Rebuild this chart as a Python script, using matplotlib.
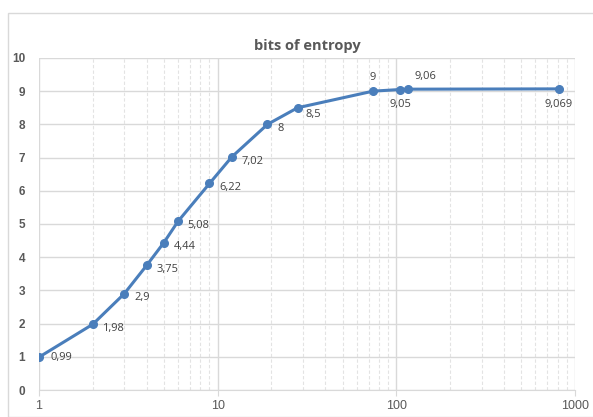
import matplotlib

matplotlib.use("Agg")
import matplotlib.pyplot as plt
from matplotlib.patches import Rectangle
from matplotlib.ticker import LogLocator, NullFormatter, FixedLocator

X = [1, 2, 3, 4, 5, 6, 9, 12, 19, 28, 74, 105, 116, 810]
Y = [0.99, 1.98, 2.9, 3.75, 4.44, 5.08, 6.22, 7.02, 8, 8.5, 9, 9.05, 9.06, 9.069]
LABELS = ["0,99", "1,98", "2,9", "3,75", "4,44", "5,08", "6,22", "7,02",
          "8", "8,5", "9", "9,05", "9,06", "9,069"]

LINE = "#4A7EBB"
GRID = "#d9d9d9"
TXT = "#595959"

plt.rcParams["font.family"] = ["Open Sans", "DejaVu Sans"]
fig = plt.figure(figsize=(5.93, 4.17), dpi=100)
fig.patches.append(Rectangle((0.013, 0.0), 0.99, 0.97, transform=fig.transFigure,
                             fill=False, edgecolor="#d9d9d9", lw=1))
ax = fig.add_axes([0.0658, 0.0647, 0.9038, 0.7963])

ax.plot(X, Y, color=LINE, lw=2.2, marker="o", ms=5.5, zorder=3)

# label offsets in points (dx, dy, ha, va)
off = {
    "0,99": (8, 0, "left", "center"),
    "8,5": (6, -5, "left", "center"),
    "9": (0, 6, "center", "bottom"),
    "9,05": (0, -7, "center", "top"),
    "9,06": (5, 5, "left", "bottom"),
    "9,069": (0, -7, "center", "top"),
}
for x, y, lab in zip(X, Y, LABELS):
    dx, dy, ha, va = off.get(lab, (7, -3, "left", "center"))
    ax.annotate(lab, (x, y), textcoords="offset points", xytext=(dx, dy),
                ha=ha, va=va, fontsize=8, color="#404040")

ax.set_xscale("log")
ax.set_xlim(1, 1000)
ax.set_ylim(0, 10)
ax.xaxis.set_major_locator(FixedLocator([1, 10, 100, 1000]))
ax.set_xticklabels(["1", "10", "100", "1000"])
ax.xaxis.set_minor_locator(LogLocator(base=10, subs=range(2, 10)))
ax.xaxis.set_minor_formatter(NullFormatter())
ax.set_yticks(range(0, 11))

ax.grid(True, which="major", color=GRID, lw=1)
ax.grid(True, which="minor", axis="x", color="#e3e3e3", lw=0.8, ls=(0, (3, 2)))
for s in ("top", "right", "left"):
    ax.spines[s].set_visible(False)
ax.spines["bottom"].set_color(GRID)
ax.tick_params(axis="y", length=0, pad=10, labelsize=8.5, labelcolor=TXT)
for t in ax.get_yticklabels():
    t.set_fontweight("bold")
    t.set_family(["Liberation Sans", "DejaVu Sans"])
ax.tick_params(axis="x", which="major", length=4, color=GRID, pad=3,
               labelsize=9, labelcolor=TXT)
for t in ax.get_xticklabels():
    t.set_family(["Liberation Sans", "DejaVu Sans"])
ax.tick_params(axis="x", which="minor", length=0)

ax.set_title("bits of entropy", fontsize=10.5, fontweight="bold", color=TXT, pad=6)

fig.savefig("out.png", dpi=100)
